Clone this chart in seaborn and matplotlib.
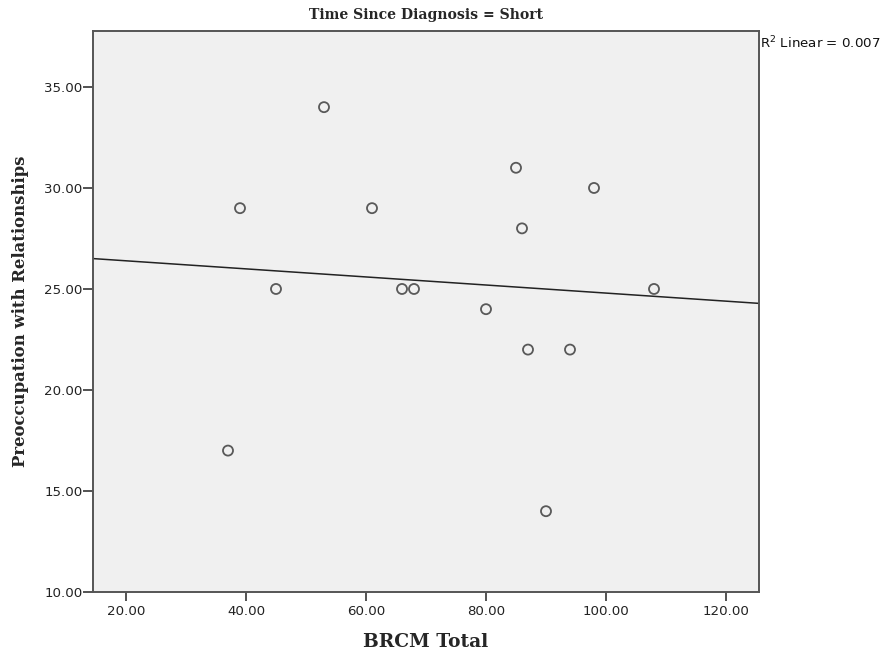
import numpy as np
import pandas as pd
import matplotlib
matplotlib.use("Agg")
import matplotlib.pyplot as plt
import seaborn as sns

brcm_total = [37, 39, 45, 53, 61, 66, 68, 80, 85, 86, 87, 90, 94, 98, 108]
preoccupation = [17, 29, 25, 34, 29, 25, 25, 24, 31, 28, 22, 14, 22, 30, 25]
x_ticks = [20, 40, 60, 80, 100, 120]
y_ticks = [10, 15, 20, 25, 30, 35]
title_text = "Time Since Diagnosis = Short"
r2_text = "R$^2$ Linear = 0.007"

df = pd.DataFrame({"BRCM Total": brcm_total, "Preoccupation with Relationships": preoccupation})

sns.set_style("white")
fig = plt.figure(figsize=(8.87, 6.59), dpi=100)
ax = fig.add_axes([93/887, 67/659, 666/887, 561/659])
ax.set_facecolor("#F0F0F0")
ax.set_xlim(14.5, 125.5)
ax.set_ylim(10, 37.77)

sns.regplot(data=df, x="BRCM Total", y="Preoccupation with Relationships", ax=ax,
            ci=None, truncate=False,
            scatter_kws=dict(s=52, facecolors="none", edgecolors="#333333", linewidths=1.3, zorder=3),
            line_kws=dict(color="#222222", linewidth=1.1, zorder=2))
ax.set_xlim(14.5, 125.5)
ax.set_ylim(10, 37.77)

ax.set_xticks(x_ticks)
ax.set_yticks(y_ticks)
ax.set_xticklabels([f"{v:.2f}" for v in x_ticks], fontfamily="DejaVu Sans", fontsize=9.6, color="#222222")
ax.set_yticklabels([f"{v:.2f}" for v in y_ticks], fontfamily="DejaVu Sans", fontsize=9.6, color="#222222")
ax.tick_params(axis="x", direction="out", length=6.5, width=1.3, color="#444444", pad=3,
               bottom=True, top=False)
ax.tick_params(axis="y", direction="out", length=7, width=1.3, color="#444444", pad=0.5,
               left=True, right=False)

for side, sp in ax.spines.items():
    sp.set_color("#555555")
    sp.set_linewidth(1.4)

ax.set_xlabel("BRCM Total", fontfamily="DejaVu Serif", fontweight="bold", fontsize=13.4, labelpad=10.5)
ax.set_ylabel("Preoccupation with Relationships", fontfamily="DejaVu Serif", fontweight="bold", fontsize=11.9, labelpad=11)
ax.set_title(title_text, fontfamily="DejaVu Serif", fontweight="bold", fontsize=10.1, pad=8.5)

fig.text(760/887, 1 - 43/659, r2_text, fontfamily="DejaVu Sans", fontsize=9.6, va="center", ha="left", color="#111111")

fig.savefig("out.png", dpi=100)
